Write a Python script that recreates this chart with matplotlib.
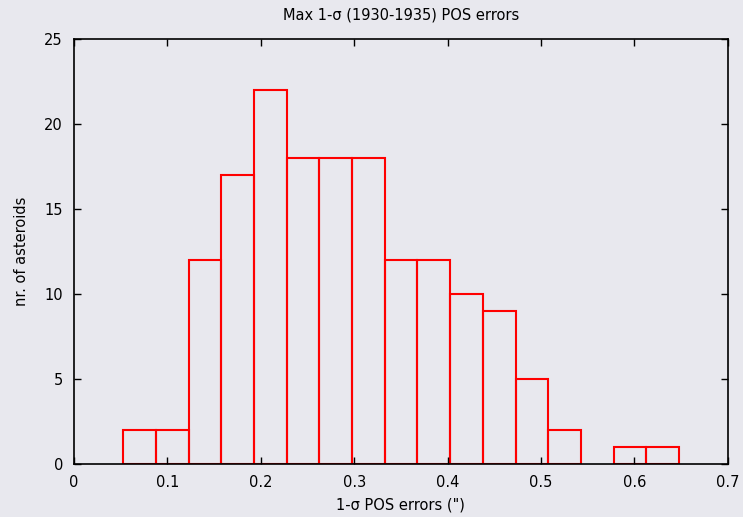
import matplotlib
matplotlib.use('Agg')
import matplotlib.pyplot as plt

# histogram bins (left edges) and counts
bin_left = [0.0528, 0.0878, 0.1228, 0.1578, 0.1928, 0.2278, 0.2628, 0.2978, 0.3328,
            0.3678, 0.4028, 0.4378, 0.4728, 0.5078, 0.5428, 0.5778, 0.6128]
counts = [2, 2, 12, 17, 22, 18, 18, 18, 12, 12, 10, 9, 5, 2, 0, 1, 1]
bin_width = 0.035
xticks = [0, 0.1, 0.2, 0.3, 0.4, 0.5, 0.6, 0.7]
yticks = [0, 5, 10, 15, 20, 25]

plt.rcParams['font.family'] = ['DejaVu Sans']
bg = '#e8e8ee'
fs = 10.5

fig = plt.figure(figsize=(7.43, 5.17), dpi=100, facecolor=bg)
ax = fig.add_axes([74 / 743, 1 - 464.3 / 517, (727.7 - 74) / 743, (464.3 - 39.3) / 517])
ax.set_facecolor(bg)

for x, c in zip(bin_left, counts):
    if c > 0:
        ax.bar(x, c, width=bin_width, align='edge', fill=False,
               edgecolor='#ff0000', linewidth=1.5)

ax.set_xlim(0, 0.7)
ax.set_ylim(0, 25)
ax.set_xticks(xticks)
ax.set_xticklabels(['0', '0.1', '0.2', '0.3', '0.4', '0.5', '0.6', '0.7'])
ax.set_yticks(yticks)
ax.tick_params(direction='in', top=True, right=True, length=5, width=1,
               labelsize=fs, pad=8, colors='black')
for s in ax.spines.values():
    s.set_linewidth(1.2)
    s.set_color('black')

ax.set_title('Max 1-σ (1930-1935) POS errors', fontsize=fs, pad=14)
ax.set_xlabel('1-σ POS errors (")', fontsize=fs, labelpad=5)
ax.set_ylabel('nr. of asteroids', fontsize=fs, labelpad=11)

plt.savefig('out.png', dpi=100, facecolor=bg)
